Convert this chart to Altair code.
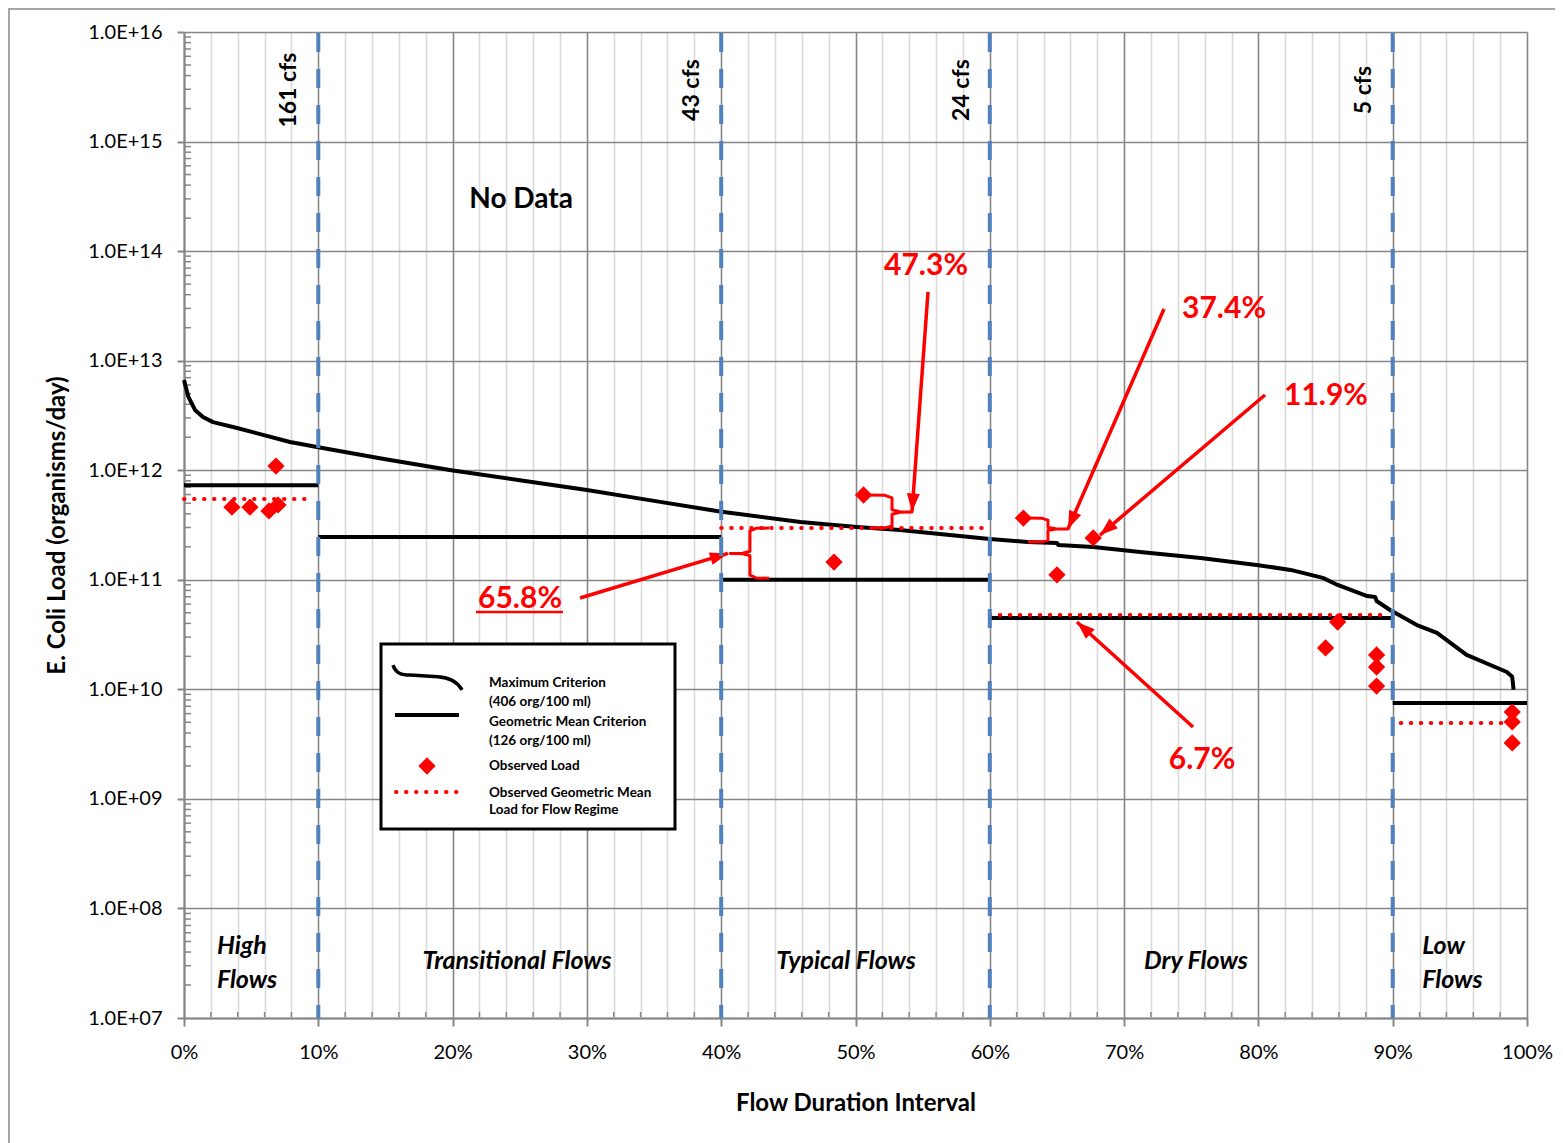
import math
import altair as alt
import pandas as pd

# ---------------- data ----------------
# Maximum criterion (406 org/100 ml) load duration curve
max_pct = [0.0, 0.32, 0.82, 1.41, 2.16, 3.95, 5.88, 7.89, 9.9, 15.0, 19.9, 25.0, 30.0, 35.0,
           39.9, 45.9, 50.1, 53.3, 60.0, 62.8, 65.0, 65.1, 67.7, 71.2, 75.7, 80.0, 82.4,
           84.8, 85.9, 88.1, 88.7, 88.8, 89.8, 91.8, 93.3, 95.5, 98.5, 98.9, 99.0]
max_load = [6.67e12, 4.69e12, 3.55e12, 3.06e12, 2.75e12, 2.43e12, 2.10e12, 1.81e12, 1.63e12,
            1.26e12, 1.00e12, 8.1e11, 6.6e11, 5.25e11, 4.2e11, 3.37e11, 3.03e11, 2.85e11,
            2.36e11, 2.21e11, 2.17e11, 2.08e11, 1.99e11, 1.79e11, 1.58e11, 1.36e11, 1.23e11,
            1.04e11, 8.97e10, 7.11e10, 6.96e10, 6.4e10, 5.3e10, 3.86e10, 3.27e10, 2.06e10,
            1.44e10, 1.30e10, 9.9e9]

# Geometric mean criterion (126 org/100 ml) per flow regime
gm_start = [0, 10, 40, 60, 90]
gm_end = [10, 40, 60, 90, 100]
gm_load = [7.3e11, 2.46e11, 1.0e11, 4.48e10, 7.5e9]

# Observed geometric mean load per flow regime (no data in transitional flows)
ogm_start = [0, 40, 60, 90.6]
ogm_end = [9.5, 59.5, 89.6, 99.0]
ogm_load = [5.47e11, 2.97e11, 4.77e10, 4.93e9]

# Observed loads
obs_pct = [3.57, 4.91, 6.33, 7.0, 6.85, 48.4, 50.6, 62.5, 65.0, 67.7, 85.0, 85.9,
           88.8, 88.8, 88.8, 98.9, 98.9, 98.9]
obs_load = [4.6e11, 4.6e11, 4.25e11, 4.82e11, 1.09e12, 1.45e11, 5.94e11, 3.66e11, 1.11e11,
            2.41e11, 2.39e10, 4.12e10, 2.06e10, 1.6e10, 1.07e10, 6.2e9, 5.04e9, 3.24e9]

# Flow regime boundaries and their flows
regime_bounds = [10, 40, 60, 90]
cfs_labels = ["161 cfs", "43 cfs", "24 cfs", "5 cfs"]
cfs_pct = [7.8, 37.8, 57.9, 87.9]
cfs_load = [2.95e15, 2.95e15, 2.95e15, 2.95e15]

# Flow regime names
regime_text = ["High", "Flows", "Transitional Flows", "Typical Flows", "Dry Flows", "Low", "Flows"]
regime_pct = [2.45, 2.45, 24.8, 49.3, 75.35, 92.2, 92.2]
regime_load = [4.54e7, 2.22e7, 3.32e7, 3.32e7, 3.32e7, 4.54e7, 2.22e7]
regime_align = ["left", "left", "center", "center", "center", "left", "left"]

# Required reductions
red_text = ["47.3%", "37.4%", "11.9%", "65.8%", "6.7%"]
red_pct = [55.25, 77.44, 85.03, 25.02, 75.8]
red_load = [7.3e13, 2.96e13, 4.76e12, 6.68e10, 2.27e9]

# Arrows (start -> tip)
arr_p1 = [55.4, 72.97, 80.49, 29.49, 75.13]
arr_v1 = [4.24e13, 2.96e13, 4.86e12, 6.82e10, 4.53e9]
arr_p2 = [54.21, 65.82, 68.2, 40.5, 66.49]
arr_v2 = [4.2e11, 2.91e11, 2.56e11, 1.74e11, 4.12e10]

# Braces (polylines)
braceA_p = [43.56, 42.6, 42.14, 42.14, 41.6, 40.66, 41.6, 42.14, 42.14, 42.6, 43.56]
braceA_v = [2.97e11, 2.95e11, 2.8e11, 1.82e11, 1.75e11, 1.74e11, 1.73e11, 1.66e11, 1.1e11, 1.04e11, 1.03e11]
braceB_p = [50.78, 52.2, 52.72, 52.72, 53.3, 54.21, 53.3, 52.72, 52.72, 52.2, 51.3]
braceB_v = [5.94e11, 5.9e11, 5.6e11, 4.35e11, 4.18e11, 4.16e11, 4.14e11, 3.97e11, 3.1e11, 2.98e11, 2.97e11]
braceC_p = [62.62, 63.9, 64.33, 64.33, 64.9, 65.82, 64.9, 64.33, 64.33, 63.9, 62.84]
braceC_v = [3.66e11, 3.64e11, 3.5e11, 3.0e11, 2.92e11, 2.91e11, 2.9e11, 2.82e11, 2.3e11, 2.22e11, 2.21e11]

# underline of 65.8%
ul_p = [21.74, 28.22]
ul_v = [5.08e10, 5.08e10]

# axis ticks
x_ticks = list(range(0, 101, 2))
y_ticks = [10.0 ** n for n in range(7, 17)]
y_minor = [k * 10.0 ** n for n in range(7, 16) for k in range(2, 10)]
x_minor = [t for t in x_ticks if t % 10 != 0]

# ---------------- layout ----------------
W, H = 1343, 986
FONT = "Lato"
RED = "#ff0000"
GRAY = "#868686"


def px(p, v):
    return p / 100 * W, (16 - math.log10(v)) / 9 * H


xs = alt.Scale(domain=[0, 100], nice=False, zero=False)
ys = alt.Scale(type="log", domain=[1e7, 1e16], nice=False)
major = "datum.value % 10 == 0"
x_axis = alt.Axis(
    values=x_ticks, labelExpr=f"{major} ? datum.value + '%' : ''",
    labelOverlap=False, labelFlush=False, grid=True,
    gridColor={"condition": {"test": major, "value": GRAY}, "value": "#d9d9d9"},
    gridWidth=1.6,
    tickOpacity={"condition": {"test": major, "value": 1}, "value": 0},
    tickSize=8, tickWidth=2, tickColor=GRAY, domainColor=GRAY, domainWidth=2,
    labelFont=FONT, labelFontSize=20, labelColor="black", labelPadding=16,
    title="Flow Duration Interval", titleFont=FONT, titleFontSize=24,
    titleFontWeight="bold", titleColor="black", titlePadding=29)
y_axis = alt.Axis(
    values=y_ticks,
    labelExpr="'1.0E+' + (datum.value < 1e10 ? '0' : '') + format(log(datum.value)/LN10, '.0f')",
    labelOverlap=False, grid=True, gridColor=GRAY, gridWidth=1.6,
    tickSize=7, tickWidth=2, tickColor=GRAY, domainColor=GRAY, domainWidth=2,
    labelFont=FONT, labelFontSize=20, labelColor="black", labelPadding=15,
    title="E. Coli Load (organisms/day)", titleFont=FONT, titleFontSize=24,
    titleFontWeight="bold", titleColor="black", titlePadding=18)


def X(f):
    return alt.X(f, type="quantitative", scale=xs, axis=x_axis)


def Y(f):
    return alt.Y(f, type="quantitative", scale=ys, axis=y_axis)


layers = []

# outer frame
layers.append(alt.Chart(pd.DataFrame({"a": [0]})).mark_rect(
    fillOpacity=0, stroke="#a6a6a6", strokeWidth=2).encode(
    x=alt.value(-175), x2=alt.value(W + 80), y=alt.value(-23), y2=alt.value(H + 200)))

# minor ticks
layers.append(alt.Chart(pd.DataFrame({"v": y_minor})).mark_rule(color=GRAY, strokeWidth=1.5).encode(
    y=Y("v"), x=alt.value(1), x2=alt.value(7)))
layers.append(alt.Chart(pd.DataFrame({"p": x_minor})).mark_rule(color=GRAY, strokeWidth=1.5).encode(
    x=X("p"), y=alt.value(H - 1), y2=alt.value(H - 6)))

# maximum criterion curve
df_max = pd.DataFrame({"p": max_pct, "v": max_load, "o": list(range(len(max_pct)))})
layers.append(alt.Chart(df_max).mark_line(color="black", strokeWidth=4, strokeJoin="round").encode(
    x=X("p"), y=Y("v"), order="o:Q"))

# geometric mean criterion
df_gm = pd.DataFrame({"p": gm_start, "p2": gm_end, "v": gm_load})
layers.append(alt.Chart(df_gm).mark_rule(color="black", strokeWidth=4).encode(
    x=X("p"), x2="p2", y=Y("v")))

# observed geometric mean
df_ogm = pd.DataFrame({"p": ogm_start, "p2": ogm_end, "v": ogm_load})
layers.append(alt.Chart(df_ogm).mark_rule(color=RED, strokeWidth=4, strokeDash=[0.5, 9.5],
                                          strokeCap="round").encode(
    x=X("p"), x2="p2", y=Y("v")))

# observed loads
df_obs = pd.DataFrame({"p": obs_pct, "v": obs_load})
layers.append(alt.Chart(df_obs).mark_point(shape="diamond", filled=True, color=RED, size=300,
                                           opacity=1).encode(x=X("p"), y=Y("v")))

# braces
brace_rows = []
for g, (bp, bv) in enumerate([(braceA_p, braceA_v), (braceB_p, braceB_v), (braceC_p, braceC_v)]):
    for i, (p, v) in enumerate(zip(bp, bv)):
        brace_rows.append({"g": g, "o": i, "p": p, "v": v})
layers.append(alt.Chart(pd.DataFrame(brace_rows)).mark_line(color=RED, strokeWidth=3,
                                                             strokeJoin="round").encode(
    x=X("p"), y=Y("v"), detail="g:N", order="o:Q"))

# arrows
arr_rows = []
for p1, v1, p2, v2 in zip(arr_p1, arr_v1, arr_p2, arr_v2):
    a1, b1 = px(p1, v1)
    a2, b2 = px(p2, v2)
    ang = math.degrees(math.atan2(a2 - a1, -(b2 - b1))) % 360
    arr_rows.append({"p": p1, "v": v1, "p2": p2, "v2": v2, "ang": ang})
df_arr = pd.DataFrame(arr_rows)
layers.append(alt.Chart(df_arr).mark_rule(color=RED, strokeWidth=3.5).encode(
    x=X("p"), y=Y("v"), x2="p2", y2="v2"))
layers.append(alt.Chart(df_arr).mark_point(shape="M0,0 L-0.36,1 L0.36,1 Z", filled=True,
                                           color=RED, size=1296, opacity=1).encode(
    x=X("p2"), y=Y("v2"), angle=alt.Angle("ang:Q", scale=None)))

# 65.8% underline
layers.append(alt.Chart(pd.DataFrame({"p": [ul_p[0]], "p2": [ul_p[1]], "v": [ul_v[0]]})).mark_rule(
    color=RED, strokeWidth=2.5).encode(x=X("p"), x2="p2", y=Y("v")))

# regime boundaries
layers.append(alt.Chart(pd.DataFrame({"p": regime_bounds})).mark_rule(
    color="#4f81bd", strokeWidth=4, strokeDash=[19, 17]).encode(
    x=X("p"), y=alt.value(1), y2=alt.value(H)))

# texts
df_cfs = pd.DataFrame({"p": cfs_pct, "v": cfs_load, "t": cfs_labels})
layers.append(alt.Chart(df_cfs).mark_text(angle=270, align="center", baseline="middle", font=FONT,
                                          fontSize=23, fontWeight="bold", color="black").encode(
    x=X("p"), y=Y("v"), text="t:N"))

for al in ["left", "center"]:
    rows = [(p, v, t) for p, v, t, a in zip(regime_pct, regime_load, regime_text, regime_align) if a == al]
    df_r = pd.DataFrame(rows, columns=["p", "v", "t"])
    layers.append(alt.Chart(df_r).mark_text(align=al, baseline="middle", font=FONT, fontSize=25,
                                            fontWeight="bold", fontStyle="italic",
                                            color="black").encode(
        x=X("p"), y=Y("v"), text="t:N"))

layers.append(alt.Chart(pd.DataFrame({"p": [25.1], "v": [2.93e14], "t": ["No Data"]})).mark_text(
    align="center", baseline="middle", font=FONT, fontSize=28, fontWeight="bold", color="black").encode(
    x=X("p"), y=Y("v"), text="t:N"))

df_red = pd.DataFrame({"p": red_pct, "v": red_load, "t": red_text})
layers.append(alt.Chart(df_red).mark_text(align="center", baseline="middle", font=FONT, fontSize=30,
                                          fontWeight="bold", color=RED).encode(
    x=X("p"), y=Y("v"), text="t:N"))

# ---------------- manual legend ----------------
one = pd.DataFrame({"a": [0]})
layers.append(alt.Chart(one).mark_rect(fill="white", stroke="black", strokeWidth=3).encode(
    x=alt.value(197), x2=alt.value(491), y=alt.value(612), y2=alt.value(797)))
layers.append(alt.Chart(one).mark_point(
    shape="M-1,-0.36 C-0.92,-0.12 -0.75,-0.07 -0.5,-0.07 L0.3,-0.02 C0.6,0 0.85,0.1 1,0.36",
    filled=False, stroke="black", strokeWidth=3.5, size=4761, opacity=1).encode(
    x=alt.value(243.5), y=alt.value(645.5)))
layers.append(alt.Chart(one).mark_rule(color="black", strokeWidth=4).encode(
    x=alt.value(211), x2=alt.value(275), y=alt.value(683)))
layers.append(alt.Chart(one).mark_point(shape="diamond", filled=True, color=RED, size=300,
                                        opacity=1).encode(x=alt.value(243), y=alt.value(734)))
layers.append(alt.Chart(one).mark_rule(color=RED, strokeWidth=4, strokeDash=[0.5, 9.5],
                                       strokeCap="round").encode(
    x=alt.value(212), x2=alt.value(276), y=alt.value(760)))
legend_lines = ["Maximum Criterion", "(406 org/100 ml)", "Geometric Mean Criterion",
                "(126 org/100 ml)", "Observed Load", "Observed Geometric Mean",
                "Load for Flow Regime"]
legend_y = [651, 670, 690, 709, 734, 761, 778]
for t, yy in zip(legend_lines, legend_y):
    layers.append(alt.Chart(one).mark_text(align="left", baseline="middle", font=FONT, fontSize=13.5,
                                           fontWeight="bold", color="black", text=t).encode(
        x=alt.value(305), y=alt.value(yy)))

chart = alt.layer(*layers).properties(
    width=W, height=H,
    autosize=alt.AutoSizeParams(type="none"),
    padding={"left": 176, "top": 24, "right": 28, "bottom": 127},
).configure_view(stroke="black", strokeWidth=2).configure(background="white")

chart.save("out.html", embed_options={"renderer": "svg", "actions": False})
